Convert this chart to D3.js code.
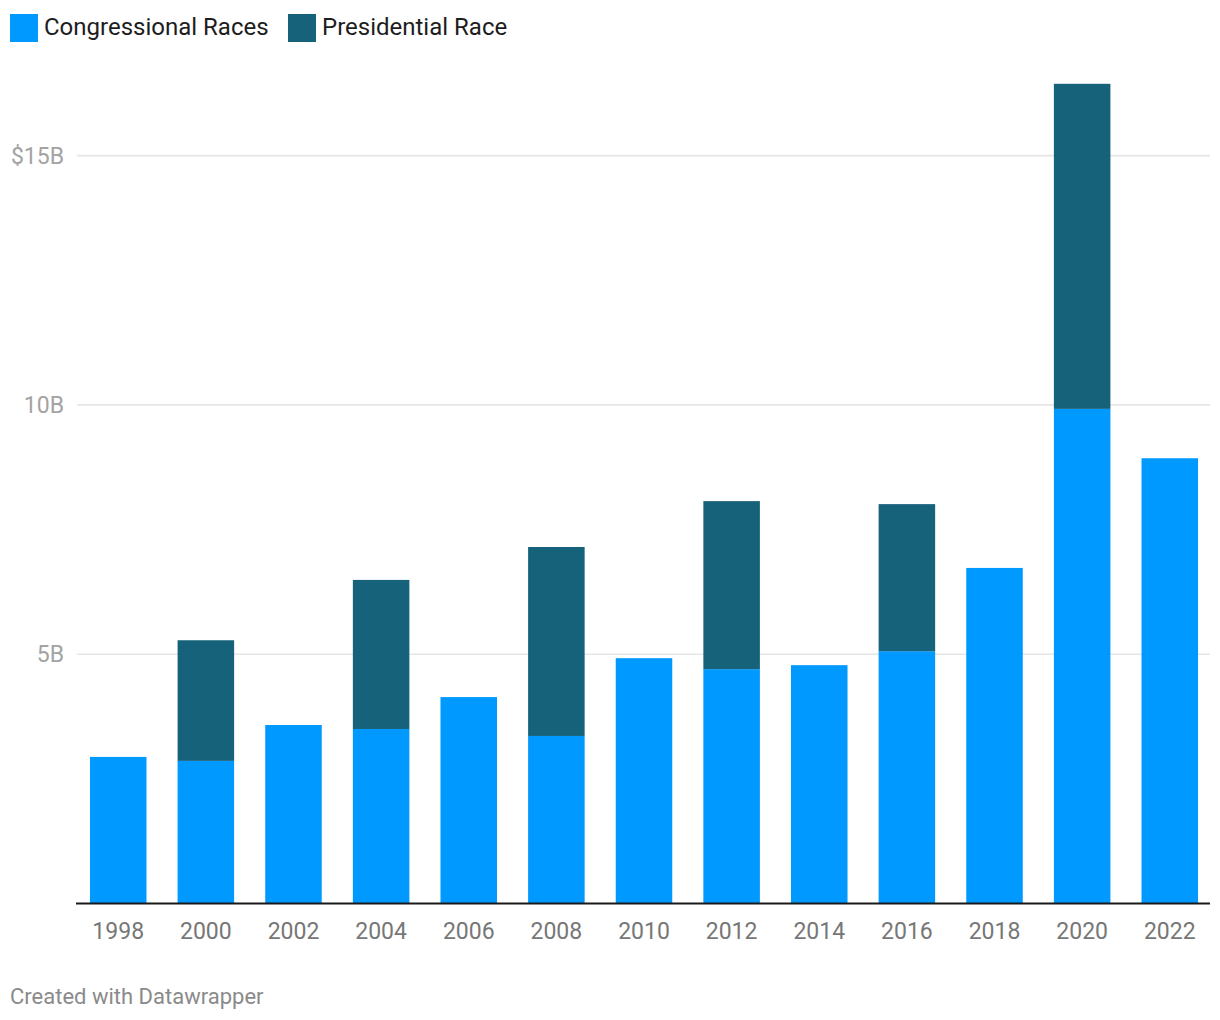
<!DOCTYPE html>
<html>
<head>
<meta charset="utf-8">
<script src="https://cdn.jsdelivr.net/npm/d3@7"></script>
<style>
  html, body { margin: 0; padding: 0; background: #fff; }
  svg { display: block; font-family: Roboto, "Noto Sans", sans-serif; }
</style>
</head>
<body>
<svg id="chart" width="1220" height="1020"></svg>
<script>
const years = ["1998","2000","2002","2004","2006","2008","2010","2012","2014","2016","2018","2020","2022"];
const congressional = [2.94, 2.86, 3.58, 3.50, 4.14, 3.36, 4.92, 4.70, 4.78, 5.06, 6.73, 9.92, 8.93];
const presidential  = [0,    2.42, 0,    2.99, 0,    3.79, 0,    3.37, 0,    2.95, 0,    6.52, 0];
const seriesNames = ["Congressional Races", "Presidential Race"];
const seriesColors = ["#0099ff", "#17627b"];
const yTicks = [5, 10, 15];
const yTickLabels = ["5B", "10B", "$15B"];
const footer = "Created with Datawrapper";

const svg = d3.select("#chart");
const left = 76, right = 1210, baseline = 903.5;
const pxPerB = 49.86;

const x = d3.scaleBand().domain(years).range([left + 1, right + 1]).paddingInner(0.355).paddingOuter(0.148);
const y = d3.scaleLinear().domain([0, 15]).range([baseline, baseline - 15 * pxPerB]);

const rows = years.map((yr, i) => ({ year: yr, c: congressional[i], p: presidential[i] }));
const stack = d3.stack().keys(["c", "p"])(rows);

// gridlines
svg.append("g").selectAll("line").data(yTicks).join("line")
  .attr("x1", left + 1).attr("x2", right)
  .attr("y1", d => y(d)).attr("y2", d => y(d))
  .attr("stroke", "#e6e6e6").attr("stroke-width", 1.6);

// y labels
svg.append("g").selectAll("text").data(yTicks).join("text")
  .attr("x", 64).attr("y", d => y(d) + 8)
  .attr("text-anchor", "end")
  .attr("font-size", 23).attr("fill", "#a3a3a3")
  .text((d, i) => yTickLabels[i]);

// bars
svg.append("g").selectAll("g").data(stack).join("g")
  .attr("fill", (d, i) => seriesColors[i])
  .selectAll("rect").data(d => d.filter(s => s[1] - s[0] > 0)).join("rect")
  .attr("x", d => x(d.data.year))
  .attr("width", x.bandwidth())
  .attr("y", d => y(d[1]))
  .attr("height", d => y(d[0]) - y(d[1]));

// x axis
const xAxis = d3.axisBottom(x).tickSize(0).tickPadding(0);
const gx = svg.append("g").attr("transform", `translate(0,${baseline})`).call(xAxis);
gx.select(".domain").attr("stroke", "#1a1a1a").attr("stroke-width", 2)
  .attr("d", `M${left},0H${right}`);
gx.selectAll("text").attr("font-size", 23).attr("fill", "#777777")
  .attr("font-family", "Roboto, sans-serif").attr("dy", 0).attr("y", 35);

// legend
const legend = svg.append("g");
const legendX = [10, 288];
seriesNames.forEach((name, i) => {
  legend.append("rect").attr("x", legendX[i]).attr("y", 14).attr("width", 28).attr("height", 28)
    .attr("fill", seriesColors[i]);
  legend.append("text").attr("x", legendX[i] + 34).attr("y", 35)
    .attr("font-size", 24).attr("fill", "#1d1d1d").text(name);
});

// footer
svg.append("text").attr("x", 10).attr("y", 1004)
  .attr("font-size", 22).attr("fill", "#8a8a8a").text(footer);
</script>
</body>
</html>
